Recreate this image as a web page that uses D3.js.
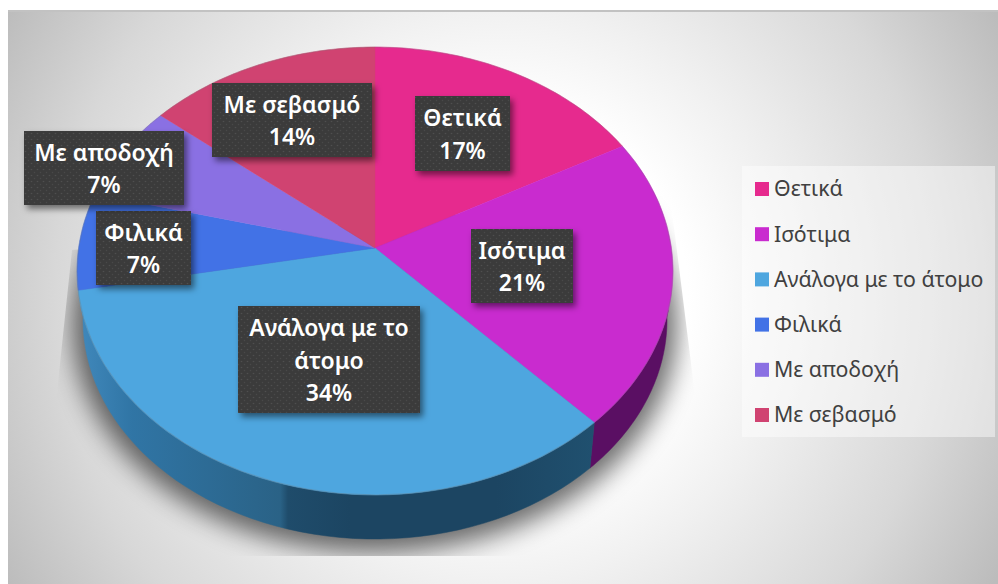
<!DOCTYPE html>
<html><head><meta charset="utf-8">
<script src="https://cdn.jsdelivr.net/npm/d3@7/dist/d3.min.js"></script>
<style>html,body{margin:0;padding:0;background:#fff}svg{display:block}</style>
</head><body><svg id="c" width="998" height="584"></svg>
<script>
const categories = ["Θετικά","Ισότιμα","Ανάλογα με το άτομο","Φιλικά","Με αποδοχή","Με σεβασμό"];
const values = [17,21,34,7,7,14];
const colors = ["#e62a8e","#c92bcf","#4ea6df","#4272e6","#8a70e3","#d04371"];
const sideColors = ["#7a1450","#5a0f63","url(#sideBlue)","#2a4f94","#4f3f90","#7a2843"];
const labelLines = [["Θετικά"],["Ισότιμα"],["Ανάλογα με το","άτομο"],["Φιλικά"],["Με αποδοχή"],["Με σεβασμό"]];
const labelBoxes = [[415,96,95,75],[471,229,102,74],[238,306,182,107],[96,211,95,74],[24,131,160,74],[212,83,160,74]];

const svg = d3.select("#c"), defs = svg.append("defs");
const W=998,H=584;

// background
const bg = defs.append("radialGradient").attr("id","bg").attr("gradientUnits","userSpaceOnUse")
  .attr("cx",500).attr("cy",297).attr("r",570);
[[0,"#fff"],[.33,"#fff"],[.5,"#f1f1f1"],[.78,"#d8d8d8"],[1,"#bcbcbc"]].forEach(s=>bg.append("stop").attr("offset",s[0]).attr("stop-color",s[1]));
svg.append("rect").attr("x",8).attr("y",10).attr("width",W-8).attr("height",H-10).attr("fill","url(#bg)");
svg.append("rect").attr("x",8).attr("y",10).attr("width",W-8).attr("height",2).attr("fill","#c2c2c2");

// projection of the tilted disc
const cx=375, cy=248, k=0.1027, gy=221.6, fx=296.4, depth=49, shrink=0.98;
const project=(a,s=1,dy=0)=>{const u=Math.sin(a),v=-Math.cos(a),w=1-k*v;return [cx+s*fx*u/w, cy+dy+s*gy*v/w];};
const arcPts=(a0,a1,s,dy)=>d3.range(0,61).map(i=>project(a0+(a1-a0)*i/60,s,dy));
const line=d3.line();

const arcs=d3.pie().sort(null).value(d=>d)(values);

// side gradient
const sg=defs.append("linearGradient").attr("id","sideBlue").attr("gradientUnits","userSpaceOnUse").attr("x1",80).attr("x2",600).attr("y1",0).attr("y2",0);
[[0,"#4088bb"],[.1,"#3075a5"],[.385,"#2a6286"],[.4,"#1f4c6b"],[.52,"#1c4562"],[.8,"#1c4562"],[1,"#205170"]].forEach(s=>sg.append("stop").attr("offset",s[0]).attr("stop-color",s[1]));

// shadow
const blur=defs.append("filter").attr("id","blur").attr("x","-20%").attr("y","-20%").attr("width","140%").attr("height","140%");
blur.append("feGaussianBlur").attr("stdDeviation",13);
defs.append("clipPath").attr("id","shClip").append("polygon").attr("points","72,250 57,392 57,556 695,556 695,395 670,195");
svg.append("g").attr("clip-path","url(#shClip)").append("path")
  .attr("d",line(arcPts(0,2*Math.PI,1.015,54))+"Z").attr("fill","#000").attr("opacity",.58).attr("filter","url(#blur)");

// side wall: the lower rim runs further than the upper rim so it tucks under the top face
const g=svg.append("g");
const visStart=1.45, topStart=1.85, topEnd=4.45, visEnd=4.85;
arcs.forEach((d,i)=>{
  if(d.endAngle<=topStart || d.startAngle>=topEnd) return;
  const botA0=d.startAngle<=topStart?visStart:d.startAngle;
  const botA1=d.endAngle>=topEnd?visEnd:d.endAngle;
  const top=arcPts(Math.max(d.startAngle,topStart),Math.min(d.endAngle,topEnd),1,0);
  const bot=arcPts(botA0,botA1,shrink,depth).reverse();
  g.append("path").attr("d",line(top.concat(bot))+"Z").attr("fill",sideColors[i]).attr("stroke",sideColors[i]).attr("stroke-width",.5);
});

// top faces
arcs.forEach((d,i)=>{
  g.append("path").attr("d",line([[cx,cy]].concat(arcPts(d.startAngle,d.endAngle,1,0)))+"Z")
   .attr("fill",colors[i]).attr("stroke",colors[i]).attr("stroke-width",.5);
});
g.append("path").attr("d",line(arcPts(0,2*Math.PI,1,0))+"Z").attr("fill","none").attr("stroke","#777").attr("stroke-opacity",.4).attr("stroke-width",.7);

// data labels
const pat=defs.append("pattern").attr("id","dots").attr("patternUnits","userSpaceOnUse").attr("width",6).attr("height",6);
pat.append("rect").attr("width",6).attr("height",6).attr("fill","#3b3b3b");
pat.append("circle").attr("cx",1.5).attr("cy",1.5).attr("r",.8).attr("fill","#505050");
pat.append("circle").attr("cx",4.5).attr("cy",4.5).attr("r",.8).attr("fill","#484848");
const ds=defs.append("filter").attr("id","ds").attr("x","-10%").attr("y","-10%").attr("width","125%").attr("height","130%");
ds.append("feDropShadow").attr("dx",3).attr("dy",4).attr("stdDeviation",3).attr("flood-color","#000").attr("flood-opacity",.5);

const font="'Noto Sans','Open Sans',sans-serif";
arcs.forEach((d,i)=>{
  const [x,y,w,h]=labelBoxes[i];
  svg.append("rect").attr("x",x).attr("y",y).attr("width",w).attr("height",h).attr("fill","url(#dots)").attr("filter","url(#ds)");
  const lines=labelLines[i].concat([values[i]+"%"]);
  const lh=32.5, y0=y+h/2-(lines.length-1)*lh/2+1;
  lines.forEach((t,j)=>svg.append("text").attr("x",x+w/2).attr("y",y0+j*lh).attr("dy","0.35em")
    .attr("text-anchor","middle").attr("font-family",font).attr("font-weight",600).attr("font-size",23).attr("fill","#fff").text(t));
});

// legend
svg.append("rect").attr("x",742).attr("y",166).attr("width",253).attr("height",271).attr("fill","#fff").attr("opacity",.45);
const ly=d3.scalePoint().domain(categories).range([189,415]);
categories.forEach((c,i)=>{
  svg.append("rect").attr("x",755).attr("y",ly(c)-7).attr("width",14).attr("height",14).attr("fill",colors[i]);
  svg.append("text").attr("x",774).attr("y",ly(c)).attr("dy","0.35em").attr("font-family",font).attr("font-size",21.3).attr("fill","#404040").text(c);
});
</script></body></html>
